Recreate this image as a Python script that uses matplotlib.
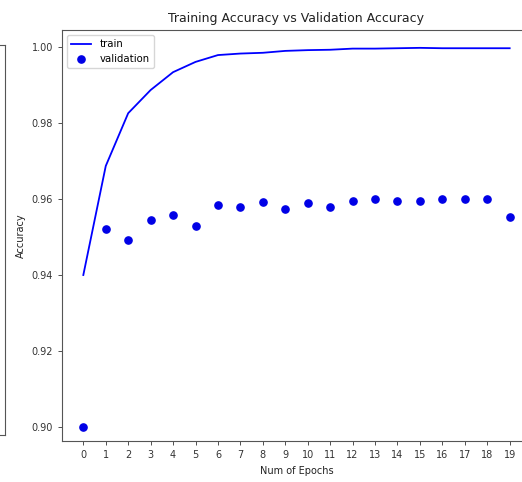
import matplotlib.pyplot as plt
import numpy as np

# values
epochs     = list(range(20))
train_acc  = [0.9400, 0.9687, 0.9826, 0.9887, 0.9934, 0.9961, 0.9979, 0.9983, 0.9985, 0.9990,
              0.9992, 0.9993, 0.9996, 0.9996, 0.9997, 0.9998, 0.9997, 0.9997, 0.9997, 0.9997]
val_acc    = [0.9000, 0.9521, 0.9492, 0.9545, 0.9558, 0.9529, 0.9584, 0.9579, 0.9592, 0.9574,
              0.9589, 0.9579, 0.9595, 0.9600, 0.9595, 0.9595, 0.9600, 0.9600, 0.9600, 0.9553]
yticks     = [0.90, 0.92, 0.94, 0.96, 0.98, 1.00]

W, H = 522, 482
fig = plt.figure(figsize=(W/100, H/100), dpi=100)

# piece of the neighbouring subplot, cut off at the left edge
ax0 = fig.add_axes([-0.5, 1 - 435/H, 0.5 + 4.5/W, (435 - 45)/H])
ax0.set_xticks([]); ax0.set_yticks([])
for s in ax0.spines.values():
    s.set_color('#555555')

# main axes (right part cut off like in the screenshot)
ax = fig.add_axes([62/W, 1 - 441/H, (531 - 62)/W, (441 - 30)/H])
ax.plot(epochs, train_acc, color='b', lw=1.3, label='train')
ax.plot(epochs, val_acc, 'o', color='#0000e6', ms=5.2, label='validation')

ax.set_xlim(-0.95, 19.95)
ax.set_ylim(0.8963, 1.0045)
ax.set_xticks(epochs)
ax.set_yticks(yticks)
ax.set_yticklabels(["%.2f" % v for v in yticks])
ax.tick_params(labelsize=7, colors='#333333', length=3, width=0.6)
for s in ax.spines.values():
    s.set_color('#555555')

ax.set_title('Training Accuracy vs Validation Accuracy', fontsize=9, color='#222222')
ax.set_xlabel('Num of Epochs', fontsize=7, color='#222222')
ax.set_ylabel('Accuracy', fontsize=7, color='#222222')
ax.legend(loc='upper left', fontsize=7.3)

fig.savefig('out.png', dpi=100)
